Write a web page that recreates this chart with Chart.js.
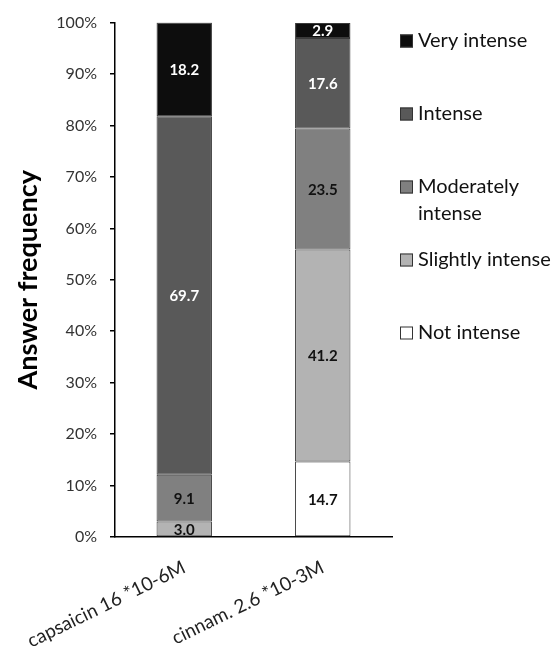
<!DOCTYPE html>
<html><head><meta charset="utf-8">
<script src="https://cdn.jsdelivr.net/npm/chart.js@4.4.1/dist/chart.umd.min.js"></script>
<style>html,body{margin:0;padding:0;background:#fff}#wrap{width:556px;height:659px;position:relative}</style>
</head><body><div id="wrap"><canvas id="c" width="556" height="659"></canvas></div>
<script>
const categories = ['capsaicin 16 *10-6M', 'cinnam. 2.6 *10-3M'];
const seriesNames = ['Not intense', 'Slightly intense', 'Moderately intense', 'Intense', 'Very intense'];
const notIntense = [0, 14.7];
const slightlyIntense = [3.0, 41.2];
const moderatelyIntense = [9.1, 23.5];
const intense = [69.7, 17.6];
const veryIntense = [18.2, 2.9];
const yTickValues = [0, 10, 20, 30, 40, 50, 60, 70, 80, 90, 100];

const seriesValues = [notIntense, slightlyIntense, moderatelyIntense, intense, veryIntense];
const fills = ['#ffffff', '#b3b3b3', '#808080', '#595959', '#0d0d0d'];
const labelColors = ['#111', '#111', '#111', '#fff', '#fff'];
const FONT = 'Lato, "Open Sans", sans-serif';

const segLabels = {
  id: 'segLabels',
  afterDatasetsDraw(chart) {
    const ctx = chart.ctx;
    chart.data.datasets.forEach((ds, i) => {
      const meta = chart.getDatasetMeta(i);
      meta.data.forEach((bar, j) => {
        const v = ds.data[j];
        if (!v) return;
        ctx.save();
        ctx.font = 'bold 15px ' + FONT;
        ctx.fillStyle = labelColors[i];
        ctx.textAlign = 'center';
        ctx.textBaseline = 'middle';
        ctx.fillText(v.toFixed(1), bar.x, (bar.y + bar.base) / 2 + 1);
        ctx.restore();
      });
    });
  }
};

const sideLegend = {
  id: 'sideLegend',
  afterDraw(chart) {
    const ctx = chart.ctx;
    const ds = chart.data.datasets;
    const boxX = 400, textX = 418, maxW = 136;
    ctx.save();
    ctx.font = '20px ' + FONT;
    ctx.textBaseline = 'middle';
    ctx.textAlign = 'left';
    for (let k = 0; k < ds.length; k++) {
      const i = ds.length - 1 - k;
      const yc = 41 + k * 73;
      ctx.fillStyle = fills[i];
      ctx.fillRect(boxX, yc - 6.5, 13, 13);
      ctx.strokeStyle = '#333';
      ctx.lineWidth = 1;
      ctx.strokeRect(boxX + 0.5, yc - 6, 12, 12);
      ctx.fillStyle = '#111';
      const words = ds[i].label.split(' ');
      let lines = [], cur = '';
      words.forEach(w => {
        const t = cur ? cur + ' ' + w : w;
        if (cur && ctx.measureText(t).width > maxW) { lines.push(cur); cur = w; } else cur = t;
      });
      lines.push(cur);
      lines.forEach((l, n) => ctx.fillText(l, textX, yc + n * 27));
    }
    ctx.restore();
  }
};

new Chart(document.getElementById('c'), {
  type: 'bar',
  data: {
    labels: categories,
    datasets: seriesNames.map((name, i) => ({
      label: name,
      data: seriesValues[i],
      backgroundColor: fills[i],
      borderColor: '#3a3a3a',
      borderWidth: 1,
      borderSkipped: false,
      barPercentage: 0.4,
      categoryPercentage: 1
    }))
  },
  options: {
    responsive: false,
    animation: false,
    devicePixelRatio: 1,
    layout: { padding: { top: 17, right: 164, bottom: 0, left: 0 } },
    plugins: { legend: { display: false }, tooltip: { enabled: false } },
    scales: {
      x: {
        stacked: true,
        grid: { display: false },
        border: { display: true, color: '#000', width: 1.5 },
        ticks: { color: '#222', font: { family: FONT, size: 19 }, minRotation: 26, maxRotation: 26, padding: 11 },
        afterFit(s) { s.height = 122; s.paddingLeft = 0; s.paddingRight = 0; }
      },
      y: {
        stacked: true,
        min: 0, max: 100,
        grid: { display: true, drawOnChartArea: false, drawTicks: true, tickLength: 5, color: '#000', lineWidth: 1.5 },
        border: { display: true, color: '#000', width: 1.5 },
        afterBuildTicks(s) { s.ticks = yTickValues.map(v => ({ value: v })); },
        ticks: { color: '#333', font: { family: FONT, size: 16 }, padding: 13, callback: v => v + '%' },
        title: { display: true, text: 'Answer frequency', color: '#000', font: { family: FONT, size: 27, weight: 'bold' }, padding: { top: 12, bottom: 0 } },
        afterFit(s) { s.width = 115; }
      }
    }
  },
  plugins: [segLabels, sideLegend]
});
</script></body></html>
